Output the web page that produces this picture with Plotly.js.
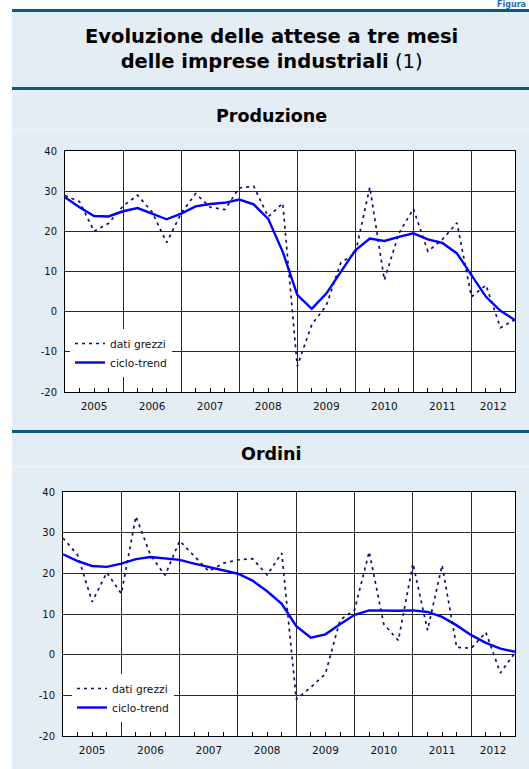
<!DOCTYPE html>
<html><head><meta charset="utf-8">
<script src="https://cdn.plot.ly/plotly-3.0.1.min.js"></script>
<style>html,body{margin:0;padding:0;background:#fff}#chart{width:529px;height:769px}</style>
</head><body><div id="chart"></div>
<script>
// ---- data (quarterly, 2005 T1 - 2012 T4) ----
const years = ['2005','2006','2007','2008','2009','2010','2011','2012'];
const quarters = ['2005 T1','2005 T2','2005 T3','2005 T4','2006 T1','2006 T2','2006 T3','2006 T4',
  '2007 T1','2007 T2','2007 T3','2007 T4','2008 T1','2008 T2','2008 T3','2008 T4',
  '2009 T1','2009 T2','2009 T3','2009 T4','2010 T1','2010 T2','2010 T3','2010 T4',
  '2011 T1','2011 T2','2011 T3','2011 T4','2012 T1','2012 T2','2012 T3','2012 T4'];
const prodRaw = [28.9,27.4,20.0,22.0,26.3,29.0,24.8,17.2,24.5,29.4,26.0,25.4,30.8,31.2,23.6,27.0,
  -13.6,-3.2,1.5,12.2,14.5,31.0,7.9,19.5,25.6,15.0,18.0,22.1,3.7,6.6,-4.0,-2.0];
const prodTrend = [28.5,26.0,23.8,23.7,25.0,25.8,24.4,23.0,24.4,26.2,26.8,27.1,27.9,26.7,23.1,14.9,
  4.2,0.7,4.5,9.9,15.3,18.2,17.6,18.6,19.5,18.0,17.1,14.5,9.1,3.7,0.2,-2.1];
const ordRaw = [28.7,24.5,13.0,20.2,15.0,34.0,24.5,19.5,28.0,24.3,20.5,22.5,23.3,23.6,19.6,25.0,
  -11.0,-8.0,-4.7,8.5,11.0,25.3,7.5,3.5,22.4,6.0,22.0,1.8,1.6,5.5,-4.5,0.5];
const ordTrend = [24.7,23.0,21.8,21.6,22.4,23.5,24.0,23.6,23.3,22.4,21.6,20.8,19.9,18.2,15.6,12.5,
  7.0,4.2,5.0,7.5,9.8,10.9,10.8,10.8,10.9,10.5,9.3,7.2,4.8,2.9,1.5,0.7];
const yTickVals = [-20,-10,0,10,20,30,40];
const yTickText = ['-20','-10','0','10','20','30','40'];
const seriesNames = ['dati grezzi','ciclo-trend'];
const panelTitles = ['Produzione','Ordini'];

// ---- layout helpers ----
const W = 529, H = 769;
const X = p => p / W, Y = p => 1 - p / H;
const xi = quarters.map((q, i) => i);
const last = xi.length - 1;
const labelPos = years.map((y, k) => (k * 4 + Math.min(k * 4 + 4, last)) / 2);

const FONT = 'DejaVu Sans, Liberation Sans, Arial, sans-serif';
const rawStyle = {color: '#10107a', width: 1.7, dash: '3px,4px'};
const trendStyle = {color: '#0000ff', width: 2.4};

function traces(raw, trend, xa, ya, leg) {
  return [
    {x: xi, y: raw, text: quarters, type: 'scatter', mode: 'lines', name: seriesNames[0],
     line: rawStyle, xaxis: xa, yaxis: ya, legend: leg},
    {x: xi, y: trend, text: quarters, type: 'scatter', mode: 'lines', name: seriesNames[1],
     line: trendStyle, xaxis: xa, yaxis: ya, legend: leg}
  ];
}
const data = [
  ...traces(prodRaw, prodTrend, 'x', 'y', 'legend'),
  ...traces(ordRaw, ordTrend, 'x2', 'y2', 'legend2'),
  {x: [], y: [], xaxis: 'x3', yaxis: 'y', showlegend: false, hoverinfo: 'skip'},
  {x: [], y: [], xaxis: 'x4', yaxis: 'y2', showlegend: false, hoverinfo: 'skip'}
];

const gridCol = '#2a2a2a';
function xMain(dom, anchor) {
  return {domain: dom, anchor: anchor, range: [0, last], tickmode: 'linear', tick0: 0, dtick: 4,
    showticklabels: false, ticks: '', showgrid: true, gridcolor: gridCol, gridwidth: 1,
    showline: true, mirror: true, linecolor: '#000', linewidth: 1, zeroline: false,
    minor: {tickmode: 'linear', tick0: 0, dtick: 1, ticks: 'inside', ticklen: 4, tickcolor: '#000', tickwidth: 1, showgrid: false}};
}
function xLab(over, anchor) {
  return {overlaying: over, anchor: anchor, range: [0, last], tickmode: 'array', tickvals: labelPos, ticktext: years,
    showgrid: false, showline: false, zeroline: false, ticks: '', ticklabelstandoff: 6,
    tickfont: {family: FONT, size: 10.5, color: '#111'}};
}
function yAx(dom, anchor) {
  return {domain: dom, anchor: anchor, range: [-20, 40], tickmode: 'array', tickvals: yTickVals, ticktext: yTickText,
    showgrid: true, gridcolor: gridCol, gridwidth: 1, zeroline: false, showline: true, mirror: true,
    linecolor: '#000', linewidth: 1, ticks: '', ticklabelstandoff: 5,
    tickfont: {family: FONT, size: 10, color: '#111'}};
}
const legStyle = {bgcolor: '#ffffff', borderwidth: 0, font: {family: FONT, size: 10.7, color: '#111'},
  xanchor: 'left', yanchor: 'top', traceorder: 'normal', itemclick: false};

const band = '#e4ecf4', dark = '#0b5884';
const layout = {
  width: W, height: H, margin: {l: 0, r: 0, t: 0, b: 0},
  paper_bgcolor: band, plot_bgcolor: '#ffffff', showlegend: true,
  xaxis: xMain([X(65), X(515)], 'y'),
  xaxis3: xLab('x', 'y'),
  yaxis: yAx([Y(392), Y(151)], 'x'),
  xaxis2: xMain([X(63), X(515)], 'y2'),
  xaxis4: xLab('x2', 'y2'),
  yaxis2: yAx([Y(736), Y(492)], 'x2'),
  legend: Object.assign({x: X(70), y: Y(329)}, legStyle),
  legend2: Object.assign({x: X(72), y: Y(674)}, legStyle),
  shapes: [
    {type: 'rect', xref: 'paper', yref: 'paper', x0: 0, x1: X(12), y0: 0, y1: 1, fillcolor: '#fff', line: {width: 0}, layer: 'below'},
    {type: 'rect', xref: 'paper', yref: 'paper', x0: 0, x1: 1, y0: Y(9), y1: 1, fillcolor: '#fff', line: {width: 0}, layer: 'below'},
    {type: 'rect', xref: 'paper', yref: 'paper', x0: X(12), x1: 1, y0: Y(12), y1: Y(9), fillcolor: dark, line: {width: 0}},
    {type: 'rect', xref: 'paper', yref: 'paper', x0: X(12), x1: 1, y0: Y(90), y1: Y(87), fillcolor: dark, line: {width: 0}},
    {type: 'rect', xref: 'paper', yref: 'paper', x0: X(12), x1: 1, y0: Y(433), y1: Y(430), fillcolor: dark, line: {width: 0}},
    {type: 'line', xref: 'paper', yref: 'paper', x0: X(12), x1: 1, y0: Y(129.5), y1: Y(129.5), line: {color: '#f2f6fa', width: 1}},
    {type: 'line', xref: 'paper', yref: 'paper', x0: X(12), x1: 1, y0: Y(466.5), y1: Y(466.5), line: {color: '#f2f6fa', width: 1}}
  ],
  annotations: [
    {xref: 'paper', yref: 'paper', x: X(527), y: Y(-1), xanchor: 'right', yanchor: 'top', showarrow: false,
     text: '<b>Figura</b>', font: {family: FONT, size: 8, color: '#1f6db3'}, borderpad: 0},
    {xref: 'paper', yref: 'paper', x: X(271), y: Y(49), xanchor: 'center', yanchor: 'middle', showarrow: false,
     text: '<b>Evoluzione delle attese a tre mesi<br>delle imprese industriali</b> (1)',
     font: {family: FONT, size: 19.5, color: '#000'}},
    {xref: 'paper', yref: 'paper', x: X(271), y: Y(116), xanchor: 'center', yanchor: 'middle', showarrow: false,
     text: '<b>' + panelTitles[0] + '</b>', font: {family: FONT, size: 17.5, color: '#000'}},
    {xref: 'paper', yref: 'paper', x: X(271), y: Y(454), xanchor: 'center', yanchor: 'middle', showarrow: false,
     text: '<b>' + panelTitles[1] + '</b>', font: {family: FONT, size: 17.5, color: '#000'}}
  ]
};
Plotly.newPlot('chart', data, layout, {displayModeBar: false, staticPlot: true});
</script></body></html>
